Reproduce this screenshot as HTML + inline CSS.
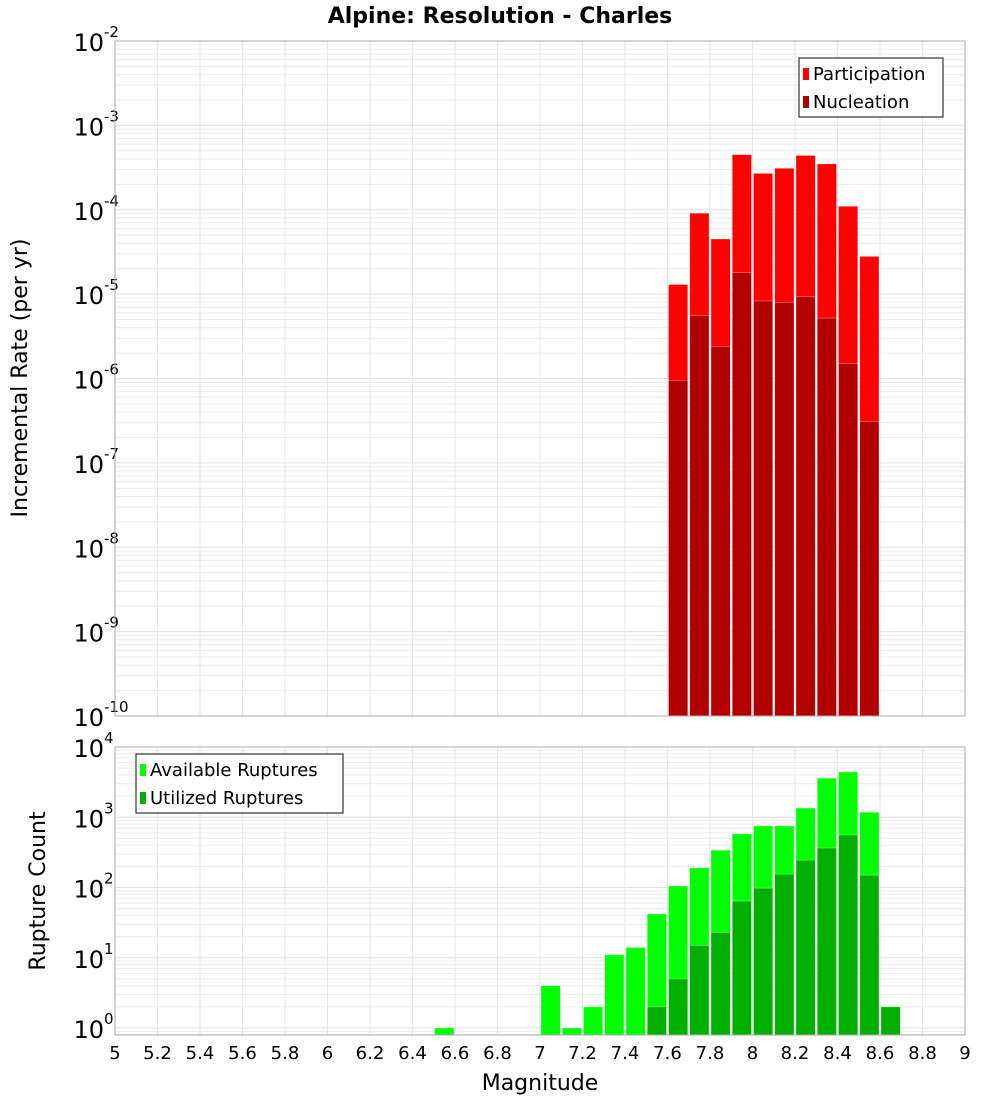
<!DOCTYPE html>
<html><head><meta charset="utf-8"><style>
body{margin:0;background:#fff;font-family:"Liberation Sans","DejaVu Sans",sans-serif}
svg text{font-family:"DejaVu Sans","Liberation Sans",sans-serif}
</style></head><body>
<svg id="chart" width="1000" height="1100" xmlns="http://www.w3.org/2000/svg">
<text x="500" y="23" text-anchor="middle" font-size="22" font-weight="bold">Alpine: Resolution - Charles</text>
<g id="top"></g><g id="bot"></g>
<text x="540" y="1090" text-anchor="middle" font-size="22">Magnitude</text>
<text transform="translate(27,378) rotate(-90)" text-anchor="middle" font-size="22">Incremental Rate (per yr)</text>
<text transform="translate(45,891) rotate(-90)" text-anchor="middle" font-size="22">Rupture Count</text>
</svg>
<script>
const rateMags=[7.6,7.7,7.8,7.9,8.0,8.1,8.2,8.3,8.4,8.5];
const participation=[1.3e-5,9.1e-5,4.5e-5,4.5e-4,2.7e-4,3.1e-4,4.4e-4,3.5e-4,1.1e-4,2.8e-5];
const nucleation=[9.5e-7,5.6e-6,2.4e-6,1.8e-5,8.3e-6,8e-6,9.3e-6,5.2e-6,1.5e-6,3.1e-7];
const countMags=[6.5,7.0,7.1,7.2,7.3,7.4,7.5,7.6,7.7,7.8,7.9,8.0,8.1,8.2,8.3,8.4,8.5,8.6];
const available=[1,4,1,2,11,14,42,105,190,340,580,750,750,1350,3600,4400,1180,0];
const utilized=[0,0,0,0,0,0,2,5,15,23,64,98,155,245,365,560,150,2];
const xTicks=["5","5.2","5.4","5.6","5.8","6","6.2","6.4","6.6","6.8","7","7.2","7.4","7.6","7.8","8","8.2","8.4","8.6","8.8","9"];
const NS="http://www.w3.org/2000/svg";
const X0=115,X1=965;
const xs=m=>X0+(m-5)/4*(X1-X0);
function el(p,t,a){const e=document.createElementNS(NS,t);for(const k in a)e.setAttribute(k,a[k]);p.appendChild(e);return e;}
function panel(g,top,bot,lmin,lmax,ys){
  // minor/major grid
  for(let d=Math.floor(lmin);d<lmax;d++){for(let k=1;k<10;k++){const v=d+Math.log10(k);if(v<lmin||v>lmax)continue;const y=ys(Math.pow(10,v));
    const l=el(g,'line',{x1:X0,x2:X1,y1:y,y2:y,stroke:k==1?'#e0e0e0':'#ececec','stroke-width':1});
    
    }}
  for(let i=0;i<xTicks.length;i++){const x=xs(+xTicks[i]);const l=el(g,'line',{x1:x,x2:x,y1:top,y2:bot,stroke:'#e6e6e6'});
    
    }
  for(let d=Math.ceil(lmin);d<=lmax;d++){const y=ys(Math.pow(10,d));const t=el(g,'text',{x:104,y:y+10,'text-anchor':'end','font-size':24});
    
    
    t.textContent='10';const s=el(g,'text',{x:104,y:y-4,'font-size':15});s.textContent=d;
    
    }
}
function bars(g,mags,vals,ys,bot,color,name){
  for(let i=0;i<mags.length;i++){if(!vals[i])continue;const x=xs(mags[i])+1,w=xs(mags[i]+0.1)-xs(mags[i])-2;const y=ys(vals[i]);
    const r=el(g,'rect',{x:x,y:y,width:w,height:bot-y,fill:color,stroke:'#fff','stroke-opacity':0.5,'stroke-width':0.6});
    
    }
}
function legend(g,x,y,w,items){
  const b=el(g,'rect',{x:x,y:y,width:w,height:59,fill:'#fff',stroke:'#333','stroke-width':1.2});
  
  
  items.forEach((it,i)=>{const sw=el(g,'rect',{x:x+4,y:y+10+i*28,width:6,height:12,fill:it[1]});
    
    
    const t=el(g,'text',{x:x+14,y:y+22+i*28,'font-size':18});t.textContent=it[0];
    
    });
}
// top panel
const T=document.getElementById('top');
const tTop=41,tBot=716,tMin=-10,tMax=-2;
const ysT=v=>tBot-(Math.log10(v)-tMin)/(tMax-tMin)*(tBot-tTop);
panel(T,tTop,tBot,tMin,tMax,ysT);
bars(T,rateMags,participation,ysT,tBot,'#ff0000','participation');
bars(T,rateMags,nucleation,ysT,tBot,'#b20000','nucleation');
const fT=el(T,'rect',{x:X0,y:tTop,width:X1-X0,height:tBot-tTop,fill:'none',stroke:'#aaa'});


legend(T,799,58,144,[['Participation','#ff0000'],['Nucleation','#b20000']]);
// bottom panel
const B=document.getElementById('bot');
const bTop=747,bBot=1035,bMax=4,bMin=-7/70.25;
const ysB=v=>bBot-(Math.log10(v)-bMin)/(bMax-bMin)*(bBot-bTop);
panel(B,bTop,bBot,bMin,bMax,ysB);
bars(B,countMags,available,ysB,bBot,'#00ff00','available');
bars(B,countMags,utilized,ysB,bBot,'#00b000','utilized');
const fB=el(B,'rect',{x:X0,y:bTop,width:X1-X0,height:bBot-bTop,fill:'none',stroke:'#aaa'});


legend(B,136,754,207,[['Available Ruptures','#00ff00'],['Utilized Ruptures','#00b000']]);
xTicks.forEach(s=>{const t=el(B,'text',{x:xs(+s),y:1059,'text-anchor':'middle','font-size':18});t.textContent=s;
  
  });
</script>
</body></html>
